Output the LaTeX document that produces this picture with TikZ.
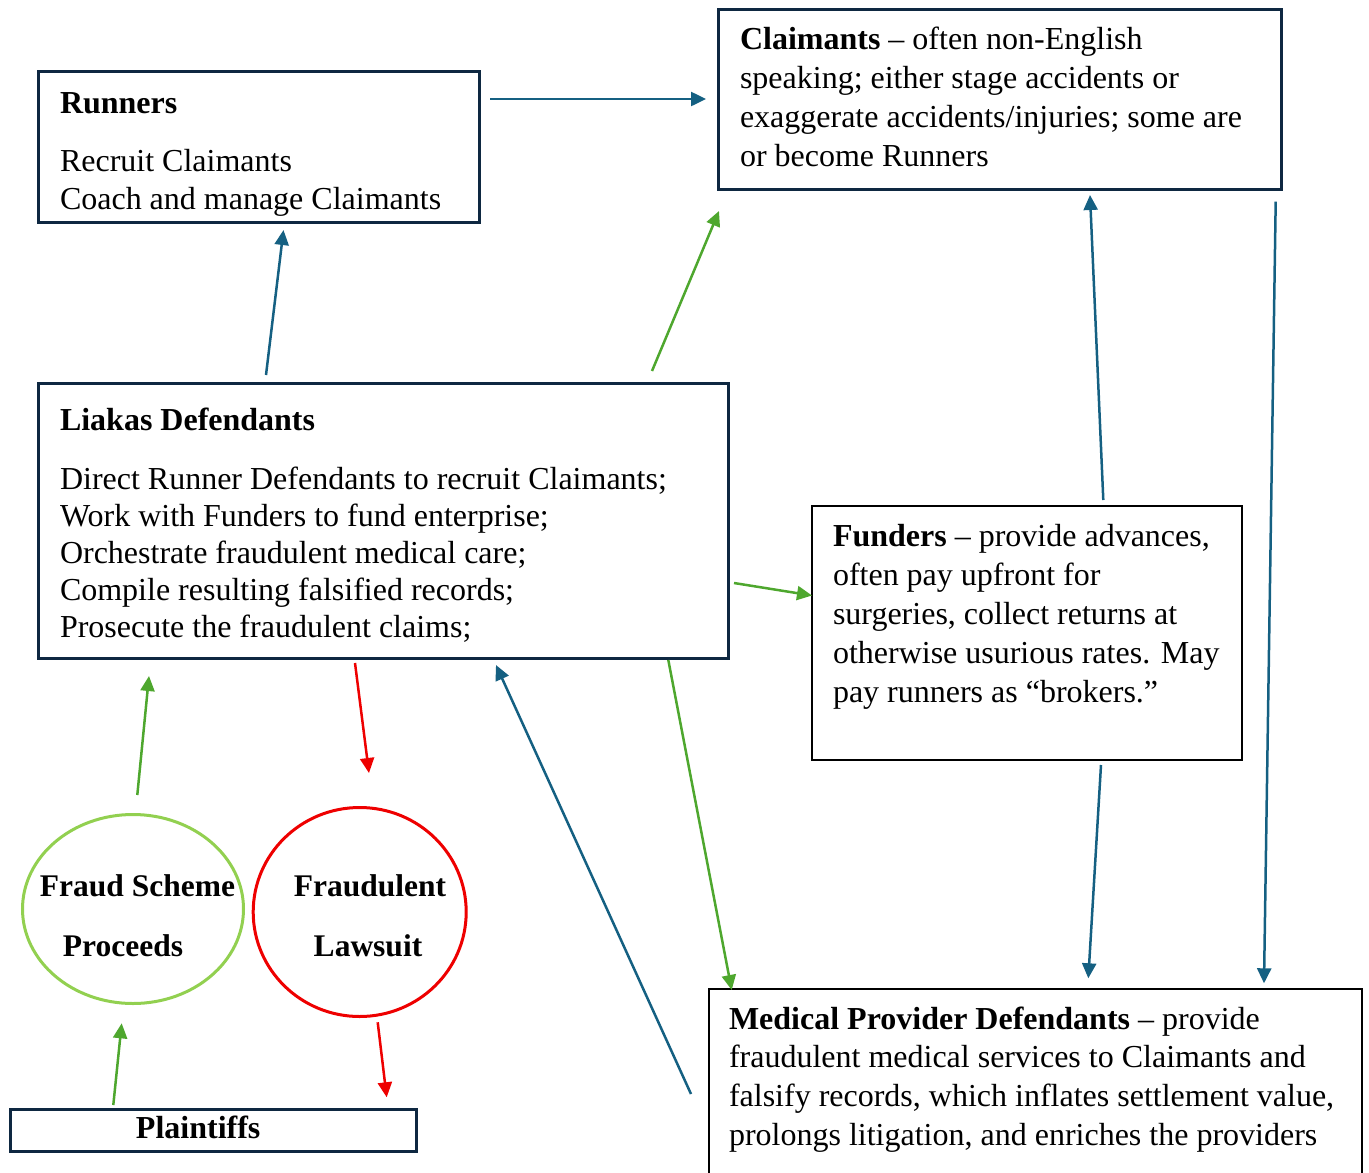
\documentclass[tikz,border=0pt]{standalone}
\usepackage{fontspec}
\setmainfont{Liberation Serif}
\usetikzlibrary{arrows.meta,shapes.geometric}
\definecolor{navy}{HTML}{0E2841}
\definecolor{arrblue}{HTML}{156082}
\definecolor{arrgreen}{HTML}{4EA72E}
\definecolor{lightgreen}{HTML}{92D050}
\definecolor{lawred}{HTML}{EE0000}
\tikzset{
  navybox/.style={draw=navy, line width=3pt, inner sep=0pt, outer sep=0pt, anchor=north west},
  blackbox/.style={draw=black, line width=2pt, inner sep=0pt, outer sep=0pt, anchor=north west},
  conn/.style={line width=2.5pt, -{Triangle[length=15pt,width=14pt]}},
  blueconn/.style={conn, draw=arrblue, fill=arrblue},
  greenconn/.style={conn, draw=arrgreen, fill=arrgreen},
  redconn/.style={conn, draw=lawred, fill=lawred},
  oval/.style={ellipse, line width=3pt, inner sep=0pt}
}
% #1 width, #2 height, #3 left pad, #4 first-baseline drop, #5 baselineskip, #6 text
\newcommand\boxbody[6]{\parbox[t][#2pt][t]{#1pt}{\fontsize{32}{#5pt}\selectfont\setlength\parskip{0pt}\setlength\leftskip{#3pt}\rule{0pt}{#4pt}#6}}
% centred two-line label for ovals: #1 raise, #2 shift1, #3 shift2, #4 line1, #5 line2
\newcommand\ovaltext[5]{\smash{\raisebox{#1pt}{\makebox[0pt]{\parbox[t]{300pt}{\centering\fontsize{31.5}{60}\selectfont\bfseries\hspace*{#2pt}#4\\\hspace*{#3pt}#5}}}}}
\begin{document}
\begin{tikzpicture}[x=1pt,y=-1pt]
\useasboundingbox (0,0) rectangle (1369,1173);

\node[navybox] (runners) at (38.5,71.5)
  {\boxbody{441}{151}{21.5}{41.8}{37.3}{\textbf{Runners}\par\vspace{21.1pt}Recruit Claimants\par Coach and manage Claimants}};

\node[navybox] (claimants) at (718.5,9.5)
  {\boxbody{563}{180}{21.5}{40.3}{39}{\textbf{Claimants} – often non-English\par speaking; either stage accidents or\par exaggerate accidents/injuries; some are\par or become Runners}};

\node[navybox] (liakas) at (38.5,383.5)
  {\boxbody{690}{275}{21.5}{46.5}{37.1}{\textbf{Liakas Defendants}\par\vspace{21.9pt}Direct Runner Defendants to recruit Claimants;\par Work with Funders to fund enterprise;\par Orchestrate fraudulent medical care;\par Compile resulting falsified records;\par Prosecute the fraudulent claims;}};

\node[blackbox] (funders) at (812,506)
  {\boxbody{430}{254}{21}{40}{39}{\textbf{Funders} – provide advances,\par often pay upfront for\par surgeries, collect returns at\par otherwise usurious rates. May\par pay runners as “brokers.”}};

\node[blackbox] (medical) at (709,989)
  {\boxbody{653}{200}{20}{40}{38.7}{\textbf{Medical Provider Defendants} – provide\par fraudulent medical services to Claimants and\par falsify records, which inflates settlement value,\par prolongs litigation, and enriches the providers}};

\node[navybox] (plaintiffs) at (10.5,1109.5)
  {\boxbody{406}{42}{125.5}{28.5}{37}{\textbf{Plaintiffs}}};

\node[oval, draw=lightgreen, minimum width=221pt, minimum height=189pt] (proceeds) at (133,909)
  {\ovaltext{12.3}{9}{-20}{Fraud Scheme}{Proceeds}};

\node[oval, draw=lawred, minimum width=213pt, minimum height=209pt] (lawsuit) at (359.7,912)
  {\ovaltext{15.3}{20.6}{16.6}{Fraudulent}{Lawsuit}};

% connectors
\draw[blueconn] ([shift={(451.5,27.5)}]runners.north west) -- ([shift={(-12.5,89.5)}]claimants.north west);
\draw[blueconn] ([shift={(227.5,-8.5)}]liakas.north west) -- ([shift={(245,158.5)}]runners.north west);
\draw[greenconn] ([shift={(613.5,-12.5)}]liakas.north west) -- ([shift={(0.5,201.5)}]claimants.north west);
\draw[greenconn] ([shift={(695.5,199.5)}]liakas.north west) -- ([shift={(0,89.5)}]funders.north west);
\draw[blueconn] ([shift={(291.3,-6)}]funders.north west) -- ([shift={(371.5,185.5)}]claimants.north west);
\draw[blueconn] ([shift={(289,259)}]funders.north west) -- ([shift={(379.3,-10.7)}]medical.north west);
\draw[blueconn] ([shift={(557.2,192.2)}]claimants.north west) -- ([shift={(555,-5.7)}]medical.north west);
\draw[greenconn] ([shift={(629.8,276.5)}]liakas.north west) -- ([shift={(22.7,1)}]medical.north west);
\draw[blueconn] ([shift={(-18,105)}]medical.north west) -- ([shift={(457.5,281.5)}]liakas.north west);
\draw[redconn] ([shift={(316.5,279.5)}]liakas.north west) -- ([shift={(9.3,-139)}]lawsuit.center);
\draw[redconn] ([shift={(18,110.3)}]lawsuit.center) -- ([shift={(376.2,-12.2)}]plaintiffs.north west);
\draw[greenconn] ([shift={(102.8,-4.5)}]plaintiffs.north west) -- ([shift={(-11.3,114.3)}]proceeds.center);
\draw[greenconn] ([shift={(4.3,-114)}]proceeds.center) -- ([shift={(110.5,292.5)}]liakas.north west);
\end{tikzpicture}
\end{document}
